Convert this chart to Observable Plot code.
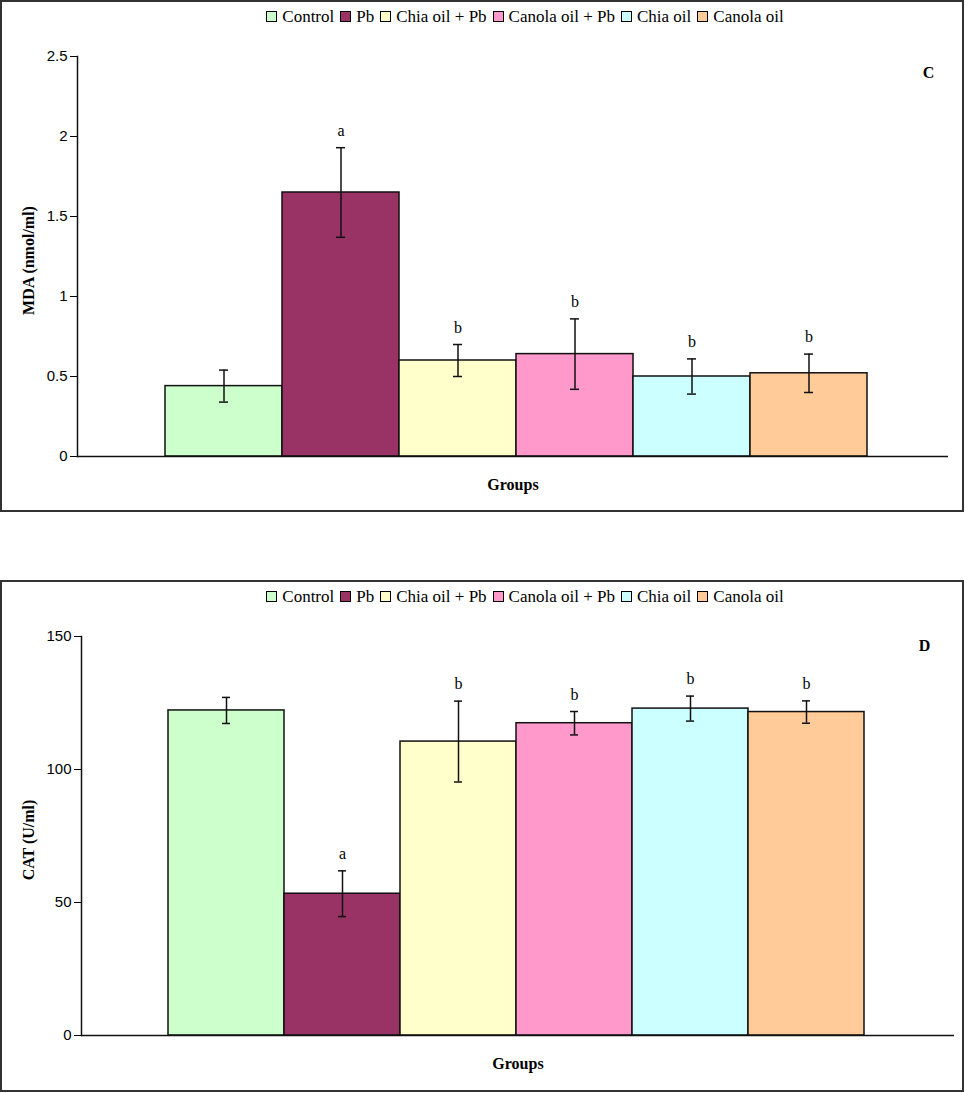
<!DOCTYPE html>
<html>
<head>
<meta charset="utf-8">
<script src="https://cdn.jsdelivr.net/npm/d3@7"></script>
<script src="https://cdn.jsdelivr.net/npm/@observablehq/plot@0.6"></script>
<style>
  body { margin: 0; background: #fff; }
  .panel { position: absolute; left: 0; width: 964px; height: 512px; box-sizing: border-box; border: 2px solid #333; background: #fff; }
  .legend { position: absolute; top: 5px; left: 0; width: 960px; padding-left: 80px; box-sizing: border-box; text-align: center; font-family: 'Liberation Serif', 'Times New Roman', Times, serif; font-size: 17px; color: #000; z-index: 2; white-space: nowrap; }
  .legend span.sw { display: inline-block; width: 9px; height: 9px; border: 1px solid #000; margin: 0 5px 0 6px; vertical-align: 0px; }
  .plotwrap { position: absolute; left: 0; top: 0; }
</style>
</head>
<body>
<div class="panel" id="p1" style="top:0"></div>
<div class="panel" id="p2" style="top:580px"></div>
<script>
const groups = ["Control", "Pb", "Chia oil + Pb", "Canola oil + Pb", "Chia oil", "Canola oil"];
const colors = ["#CCFFCC", "#993366", "#FFFFCC", "#FF99CC", "#CCFFFF", "#FFCC99"];

const mdaMean = [0.44, 1.65, 0.60, 0.64, 0.50, 0.52];
const mdaErr  = [0.10, 0.28, 0.10, 0.22, 0.11, 0.12];
const mdaSig  = ["", "a", "b", "b", "b", "b"];
const mdaTicks = [0, 0.5, 1, 1.5, 2, 2.5];

const catMean = [122.2, 53.3, 110.5, 117.4, 122.9, 121.6];
const catErr  = [4.9, 8.6, 15.2, 4.4, 4.7, 4.2];
const catSig  = ["", "a", "b", "b", "b", "b"];
const catTicks = [0, 50, 100, 150];

function legend() {
  const d = document.createElement("div");
  d.className = "legend";
  groups.forEach((g, i) => {
    const s = document.createElement("span");
    s.className = "sw";
    s.style.background = colors[i];
    d.appendChild(s);
    d.appendChild(document.createTextNode(g));
  });
  return d;
}

function makeChart(el, opts) {
  const data = groups.map((g, i) => ({group: g, mean: opts.mean[i], err: opts.err[i], sig: opts.sig[i]}));
  const serif = "Liberation Serif, Times New Roman, serif";
  const chart = Plot.plot({
    width: 960,
    height: 500,
    marginTop: 54,
    marginBottom: opts.marginBottom,
    marginLeft: opts.marginLeft,
    marginRight: opts.marginRight,
    style: {fontFamily: "Liberation Sans, Arial, sans-serif", fontSize: "15px", color: "#000", background: "transparent"},
    x: {type: "band", domain: groups, paddingInner: 0, paddingOuter: opts.padOuter, align: opts.align, axis: null},
    y: {domain: [opts.ticks[0], opts.ticks[opts.ticks.length - 1]], axis: null},
    color: {domain: groups, range: colors},
    marks: [
      Plot.axisY({ticks: opts.ticks, tickFormat: d => String(d), tickSize: 7, tickPadding: 3, label: null, fontSize: 15}),
      Plot.barY(data, {x: "group", y: "mean", fill: "group", stroke: "#111", strokeWidth: 1.5}),
      Plot.ruleX(data, {x: "group", y1: d => d.mean - d.err, y2: d => d.mean + d.err, stroke: "#111", strokeWidth: 1.5}),
      Plot.tickY(data, {x: "group", y: d => d.mean + d.err, stroke: "#111", strokeWidth: 1.5, insetLeft: 54, insetRight: 54}),
      Plot.tickY(data, {x: "group", y: d => d.mean - d.err, stroke: "#111", strokeWidth: 1.5, insetLeft: 54, insetRight: 54}),
      Plot.text(data, {x: "group", y: d => d.mean + d.err, text: "sig", dy: -17, fontFamily: serif, fontSize: 16, fill: "#000"}),
      Plot.frame({anchor: "left", stroke: "#111", strokeWidth: 1.5}),
      Plot.ruleY([opts.ticks[0]], {stroke: "#111", strokeWidth: 1.5}),
      Plot.text([opts.ytitle], {frameAnchor: "left", textAnchor: "middle", lineAnchor: "middle", rotate: -90, dx: opts.titleDx, dy: 4, fontFamily: serif, fontSize: 16, fontWeight: "bold", fill: "#000"}),
      Plot.text(["Groups"], {frameAnchor: "bottom", lineAnchor: "middle", dy: 28, fontFamily: serif, fontSize: 16, fontWeight: "bold", fill: "#000"}),
      Plot.text([opts.letter], {frameAnchor: "top-right", textAnchor: "middle", lineAnchor: "middle", dx: opts.letterDx, dy: opts.letterDy, fontFamily: serif, fontSize: 16, fontWeight: "bold", fill: "#000"})
    ]
  });
  const w = document.createElement("div");
  w.className = "plotwrap";
  w.appendChild(chart);
  el.appendChild(legend());
  el.appendChild(w);
}

makeChart(document.getElementById("p1"), {
  mean: mdaMean, err: mdaErr, sig: mdaSig, ticks: mdaTicks,
  marginBottom: 46, marginLeft: 75, marginRight: 14, padOuter: 0.722, align: 0.52,
  ytitle: "MDA (nmol/ml)", titleDx: -49, letter: "C", letterDx: -20, letterDy: 16
});
makeChart(document.getElementById("p2"), {
  mean: catMean, err: catErr, sig: catSig, ticks: catTicks,
  marginBottom: 47, marginLeft: 79, marginRight: 8, padOuter: 0.747, align: 0.49,
  ytitle: "CAT (U/ml)", titleDx: -53, letter: "D", letterDx: -30, letterDy: 9
});
</script>
</body>
</html>
